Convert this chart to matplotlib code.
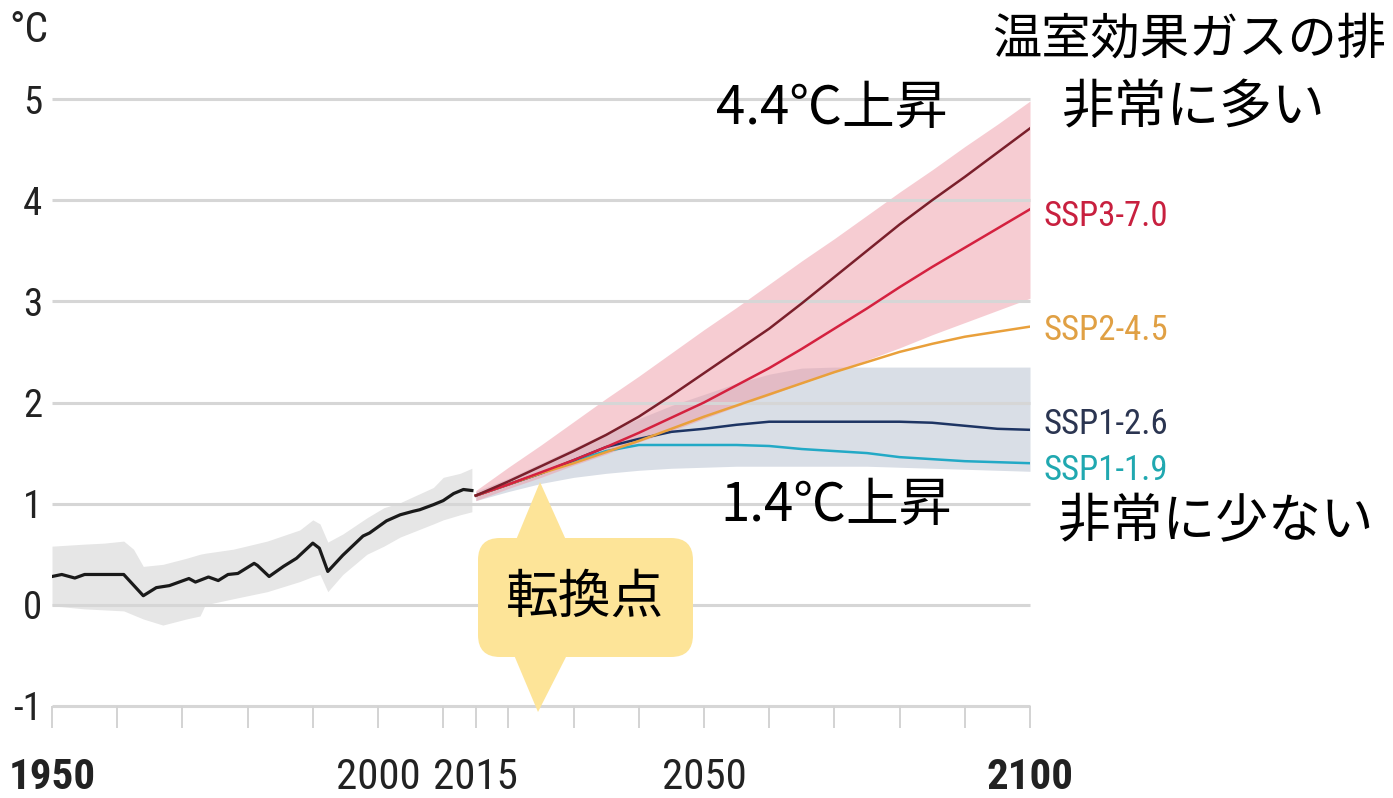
import os
import matplotlib
matplotlib.use("Agg")
import matplotlib.pyplot as plt
from matplotlib import font_manager as fm
from matplotlib.font_manager import FontProperties
from matplotlib.patches import FancyBboxPatch, Polygon, Rectangle
from matplotlib.transforms import IdentityTransform

# ---------------- data ----------------
hist_years = [1950, 1951.5, 1953.5, 1955, 1961, 1964, 1966, 1968, 1971, 1972, 1974, 1975.5,
              1977, 1978.5, 1981, 1981.5, 1983.3, 1985.5, 1987.5, 1990, 1991, 1992.3, 1994.6,
              1997.7, 1998.7, 2001.3, 2003.4, 2005.4, 2006.4, 2008.5, 2010, 2011.6, 2013.1, 2014.4]
hist_vals = [0.28, 0.30, 0.265, 0.30, 0.30, 0.09, 0.17, 0.19, 0.26, 0.225, 0.275, 0.24,
             0.30, 0.31, 0.41, 0.39, 0.28, 0.38, 0.46, 0.61, 0.56, 0.33, 0.49,
             0.68, 0.71, 0.83, 0.89, 0.925, 0.94, 0.99, 1.03, 1.10, 1.14, 1.13]

band_years = [1950, 1955, 1958, 1961, 1962.5, 1964, 1967, 1970.6, 1972.7, 1973.5, 1977.8, 1983,
              1988, 1990, 1991.1, 1992.3, 1994.6, 1998.3, 2000.9, 2003.4, 2008.5, 2010, 2012.6, 2014.4]
band_hi = [0.58, 0.60, 0.61, 0.63, 0.55, 0.38, 0.40, 0.46, 0.50, 0.51, 0.55, 0.63,
           0.74, 0.84, 0.80, 0.62, 0.70, 0.86, 0.96, 1.01, 1.16, 1.26, 1.30, 1.35]
band_lo = [-0.01, -0.04, -0.05, -0.06, -0.10, -0.14, -0.20, -0.14, -0.11, 0.0, 0.06, 0.13,
           0.23, 0.28, 0.30, 0.13, 0.30, 0.50, 0.58, 0.67, 0.80, 0.84, 0.89, 0.92]

proj_years = [2015, 2020, 2025, 2030, 2035, 2040, 2045, 2050, 2055, 2060, 2065, 2070,
              2075, 2080, 2085, 2090, 2095, 2100]
ssp585 = [1.08, 1.22, 1.37, 1.52, 1.68, 1.86, 2.07, 2.29, 2.51, 2.73, 2.98, 3.24,
          3.50, 3.76, 4.00, 4.23, 4.47, 4.71]
ssp370 = [1.08, 1.19, 1.31, 1.43, 1.56, 1.70, 1.85, 2.00, 2.17, 2.34, 2.53, 2.73,
          2.93, 3.14, 3.34, 3.53, 3.72, 3.91]
ssp245 = [1.08, 1.19, 1.30, 1.40, 1.51, 1.62, 1.74, 1.86, 1.97, 2.08, 2.19, 2.30,
          2.40, 2.50, 2.58, 2.65, 2.70, 2.75]
ssp126 = [1.08, 1.19, 1.30, 1.43, 1.56, 1.64, 1.71, 1.74, 1.78, 1.81, 1.81, 1.81,
          1.81, 1.81, 1.80, 1.77, 1.74, 1.73]
ssp119 = [1.08, 1.19, 1.30, 1.42, 1.52, 1.58, 1.58, 1.58, 1.58, 1.57, 1.54, 1.52,
          1.50, 1.46, 1.44, 1.42, 1.41, 1.40]
pink_hi = [1.13, 1.36, 1.58, 1.81, 2.04, 2.26, 2.49, 2.72, 2.94, 3.17, 3.40, 3.62,
           3.85, 4.08, 4.30, 4.53, 4.75, 4.98]
pink_lo = [1.03, 1.15, 1.26, 1.38, 1.49, 1.61, 1.72, 1.84, 1.96, 2.07, 2.19, 2.30,
           2.42, 2.54, 2.67, 2.79, 2.91, 3.03]
grey_hi = [1.12, 1.25, 1.40, 1.55, 1.70, 1.84, 1.97, 2.08, 2.19, 2.28, 2.34, 2.35,
           2.35, 2.35, 2.35, 2.35, 2.35, 2.35]
grey_lo = [1.03, 1.12, 1.20, 1.26, 1.30, 1.33, 1.35, 1.36, 1.37, 1.37, 1.37, 1.37,
           1.37, 1.36, 1.35, 1.34, 1.33, 1.32]

y_ticks = [-1, 0, 1, 2, 3, 4, 5]
x_major = [1950, 2000, 2015, 2050, 2100]
x_bold = [True, False, False, False, True]
x_minor = [1960, 1970, 1980, 1990, 2010, 2020, 2030, 2040, 2060, 2070, 2080, 2090]

scenario_labels = ["SSP3-7.0", "SSP2-4.5", "SSP1-2.6", "SSP1-1.9"]


# ---------------- fonts ----------------
def _w(v):
    if isinstance(v, str):
        return fm.weight_dict.get(v, 400)
    return v


def condensed_font(target_weight):
    prefs = ["liberation sans narrow", "roboto condensed", "open sans condensed",
             "noto sans", "dejavu sans", "lato", "arial narrow"]
    cands = []
    for f in fm.fontManager.ttflist:
        base = os.path.basename(f.fname).lower()
        nm = f.name.lower()
        if f.style != "normal":
            continue
        cond = ("narrow" in nm or "condensed" in nm or "narrow" in base or "condensed" in base
                or "cond" in base)
        if not cond or "semicond" in base or "extracond" in base or "semi" in nm or "extra" in nm:
            continue
        rank = len(prefs)
        for i, p in enumerate(prefs):
            if nm.startswith(p.split()[0]):
                rank = i
                break
        cands.append((rank, abs(_w(f.weight) - target_weight), f.fname))
    if cands:
        cands.sort()
        return cands[0][2]
    return None


def fprops(weight, size):
    fn = condensed_font(weight)
    if fn:
        return FontProperties(fname=fn, size=size)
    return FontProperties(family="Lato", weight=weight, size=size)


# ---------------- figure ----------------
W, H = 1393, 798
fig = plt.figure(figsize=(W / 100, H / 100), dpi=100)
ax = fig.add_axes([52 / W, (H - 706) / H, 978 / W, 607 / H])
ax.set_xlim(1950, 2100)
ax.set_ylim(-1, 5)
for s in ax.spines.values():
    s.set_visible(False)

JP = ["Noto Sans CJK JP", "DejaVu Sans"]

# gridlines
ax.hlines(y_ticks, 1950, 2100, colors="#d6d6d6", lw=2.2, zorder=1.5, clip_on=False)

# bands
ax.fill_between(band_years, band_lo, band_hi, color="#e6e6e6", lw=0, zorder=1)
ax.fill_between(proj_years, grey_lo, grey_hi, color="#d9dee6", lw=0, zorder=1)
ax.fill_between(proj_years, pink_lo, pink_hi, color="#ee9aa6", alpha=0.5, lw=0, zorder=1.2)

# lines
ax.plot(hist_years, hist_vals, color="#1a1a1a", lw=2.3, zorder=3)
ax.plot(proj_years, ssp119, color="#22a9c6", lw=1.8, zorder=3)
ax.plot(proj_years, ssp126, color="#1d3463", lw=1.8, zorder=3)
ax.plot(proj_years, ssp245, color="#e9a03b", lw=1.8, zorder=3)
ax.plot(proj_years, ssp370, color="#d4213f", lw=1.8, zorder=3)
ax.plot(proj_years, ssp585, color="#7a1f2b", lw=1.8, zorder=3)

# y ticks
ax.set_yticks(y_ticks)
ax.set_yticklabels([str(v) for v in y_ticks], color="#222222")
fp_y = fprops(400, 28)
for t in ax.get_yticklabels():
    t.set_fontproperties(fp_y)
ax.tick_params(axis="y", length=0, pad=7)

# x ticks
ax.set_xticks(x_major)
ax.set_xticks(x_minor, minor=True)
ax.set_xticklabels([str(v) for v in x_major], color="#222222")
fp_xb = fprops(700, 31)
fp_xr = fprops(400, 31)
for t, b in zip(ax.get_xticklabels(), x_bold):
    t.set_fontproperties(fp_xb if b else fp_xr)
ax.tick_params(axis="x", which="both", direction="out", length=16, width=1.4,
               color="#d3d3d3", pad=21)

# unit label
fig.text(9 / W, 1 - 31 / H, "°C", fontproperties=fprops(400, 30), color="#222222",
         ha="left", va="center")

# scenario labels at right
label_vals = [ssp370[-1], ssp245[-1], ssp126[-1], ssp119[-1]]
label_cols = ["#c8203f", "#e0a044", "#2b3551", "#20a8b0"]
label_offsets = [-0.07, -0.04, 0.05, -0.07]
fp_lab = fprops(400, 25)
for txt, v, c, o in zip(scenario_labels, label_vals, label_cols, label_offsets):
    ax.text(2102, v + o, txt, color=c, fontproperties=fp_lab,
            ha="left", va="center", clip_on=False, zorder=4)

# white strip that clips the SSP1-1.9 label like in the reference
fig.patches.append(Rectangle((1035, H - 500), 170, 17, transform=IdentityTransform(),
                             facecolor="white", edgecolor="none", zorder=10))

# Japanese annotations
def ftext(x, y, s, size=38, **kw):
    fig.text(x / W, 1 - y / H, s, family=JP, fontsize=size, color="black",
             va="center", zorder=12, **kw)

ftext(992, 40, "温室効果ガスの排", size=35.5, ha="left")
ftext(716, 108, "4.4℃上昇", ha="left")
ftext(1062, 108, "非常に多い", ha="left")
ftext(720, 505, "1.4℃上昇", ha="left")
ftext(1058, 522, "非常に少ない", ha="left")

# callout "転換点"
yellow = "#fde498"
fig.patches.append(FancyBboxPatch((478, H - 657), 215, 119,
                                  boxstyle="round,pad=0,rounding_size=22",
                                  transform=IdentityTransform(), facecolor=yellow,
                                  edgecolor="none", zorder=11))
fig.patches.append(Polygon([(516, H - 540), (566, H - 540), (540, H - 482)], closed=True,
                           transform=IdentityTransform(), facecolor=yellow,
                           edgecolor="none", zorder=11))
fig.patches.append(Polygon([(514, H - 655), (567, H - 655), (538, H - 712)], closed=True,
                           transform=IdentityTransform(), facecolor=yellow,
                           edgecolor="none", zorder=11))
ftext(585, 597, "転換点", ha="center")

fig.savefig("out.png", dpi=100, facecolor="white")
